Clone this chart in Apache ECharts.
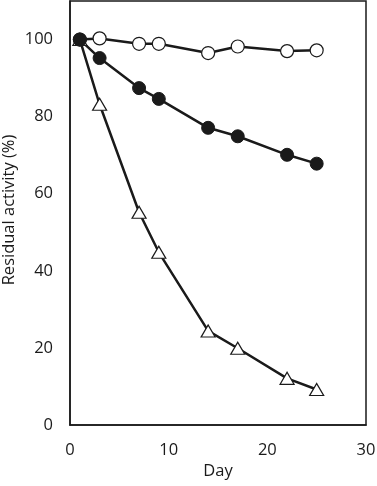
<!DOCTYPE html>
<html>
<head>
<meta charset="utf-8">
<script src="https://cdn.jsdelivr.net/npm/echarts@6/dist/echarts.min.js"></script>
<style>
  html, body { margin: 0; padding: 0; background: #fff; }
  #chart { width: 377px; height: 486px; }
</style>
</head>
<body>
<div id="chart"></div>
<script>
  // data
  const days = [1, 3, 7, 9, 14, 17, 22, 25];
  const openCircle = [100, 100.3, 98.9, 98.9, 96.5, 98.2, 97.0, 97.2];
  const filledCircle = [100, 95.2, 87.4, 84.6, 77.1, 74.9, 70.1, 67.8];
  const openTriangle = [100, 83.2, 55.2, 44.8, 24.4, 19.9, 12.1, 9.2];
  const xTicks = [0, 10, 20, 30];
  const yTicks = [0, 20, 40, 60, 80, 100];

  const ink = "#1a1a1a";
  const font = "Open Sans";

  function pairs(vals) {
    return days.map((d, i) => [d, vals[i]]);
  }

  let chart = echarts.init(document.getElementById("chart"));

  let option = {
    animation: false,
    backgroundColor: "#fff",
    grid: {
      left: 70,
      right: 11,
      top: 1,
      bottom: 61,
      outerBoundsMode: "none",
      show: true,
      borderColor: ink,
      borderWidth: 1.5
    },
    xAxis: {
      type: "value",
      min: xTicks[0],
      max: xTicks[xTicks.length - 1],
      interval: 10,
      name: "Day",
      nameLocation: "middle",
      nameGap: 38,
      nameMoveOverlap: false,
      nameTextStyle: { fontFamily: font, fontSize: 16.5, color: ink },
      axisLine: { show: true, lineStyle: { color: ink, width: 1.5 } },
      axisTick: { show: false },
      splitLine: { show: false },
      axisLabel: { fontFamily: font, fontSize: 16.5, color: ink, margin: 17 }
    },
    yAxis: {
      type: "value",
      min: 0,
      max: 110,
      interval: 20,
      name: "Residual activity (%)",
      nameLocation: "middle",
      nameGap: 52,
      nameMoveOverlap: false,
      nameTextStyle: { fontFamily: font, fontSize: 16.5, color: ink, padding: [0, 0, 0, 6] },
      axisLine: { show: true, lineStyle: { color: ink, width: 1.5 } },
      axisTick: { show: false },
      splitLine: { show: false },
      axisLabel: {
        fontFamily: font, fontSize: 16.5, color: ink, margin: 17,
        formatter: v => (yTicks.indexOf(v) >= 0 ? String(v) : "")
      }
    },
    series: [
      {
        name: "triangle",
        type: "line",
        data: pairs(openTriangle),
        symbol: "triangle",
        symbolSize: [14, 12],
        lineStyle: { color: ink, width: 2.5 },
        itemStyle: { color: "#fff", borderColor: ink, borderWidth: 1.2 }
      },
      {
        name: "open",
        type: "line",
        data: pairs(openCircle),
        symbol: "circle",
        symbolSize: 13,
        lineStyle: { color: ink, width: 2.5 },
        itemStyle: { color: "#fff", borderColor: ink, borderWidth: 1.2 }
      },
      {
        name: "filled",
        type: "line",
        data: pairs(filledCircle),
        symbol: "circle",
        symbolSize: 13,
        lineStyle: { color: ink, width: 2.5 },
        itemStyle: { color: ink, borderColor: ink, borderWidth: 1 }
      }
    ]
  };

  chart.setOption(option);
  window.addEventListener("resize", () => {
    chart.resize();
  });
</script>
</body>
</html>
